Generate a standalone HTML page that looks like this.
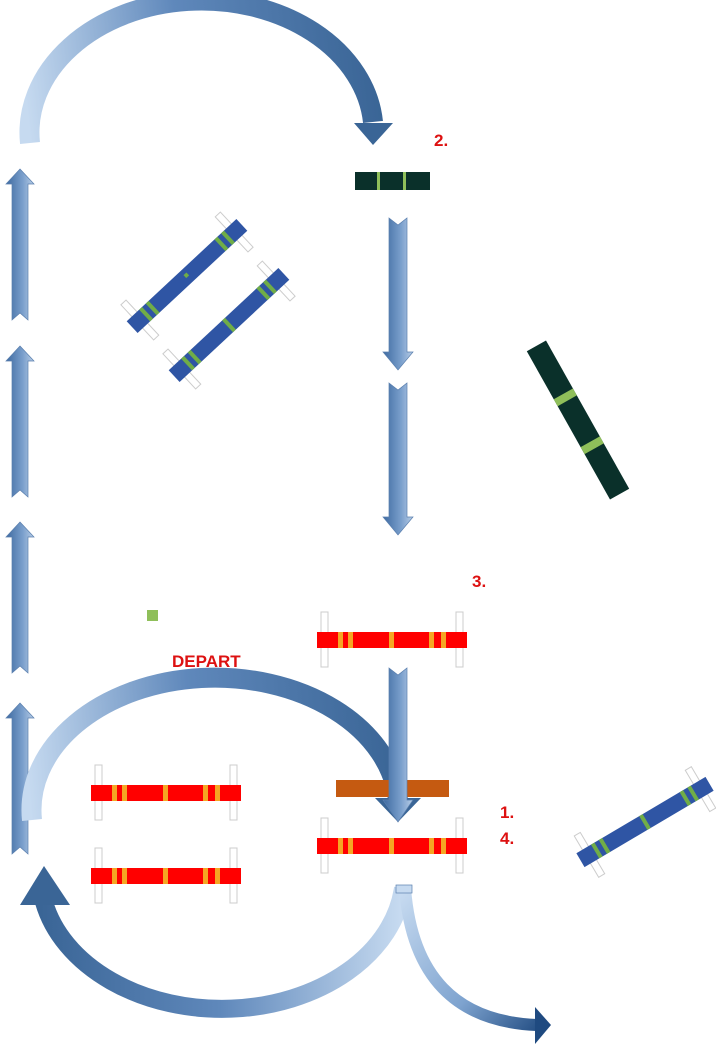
<!DOCTYPE html>
<html><head><meta charset="utf-8"><style>
html,body{margin:0;padding:0;background:#fff;}
svg{display:block;}
text{font-family:"Liberation Sans",sans-serif;font-weight:bold;fill:#d11;font-size:17px;}
</style></head><body>
<svg width="716" height="1056" viewBox="0 0 716 1056" xmlns="http://www.w3.org/2000/svg">
<defs>
<linearGradient id="sh" x1="0" x2="1" y1="0" y2="0">
<stop offset="0" stop-color="#3e6aa0"/><stop offset="0.6" stop-color="#7a9fcc"/><stop offset="1" stop-color="#b8cde6"/>
</linearGradient>
<linearGradient id="g1" gradientUnits="userSpaceOnUse" x1="30" y1="140" x2="380" y2="100">
<stop offset="0" stop-color="#c6daf0"/><stop offset="0.45" stop-color="#5f88bb"/><stop offset="1" stop-color="#3a6596"/>
</linearGradient>
<linearGradient id="g2" gradientUnits="userSpaceOnUse" x1="30" y1="810" x2="400" y2="780">
<stop offset="0" stop-color="#c6daf0"/><stop offset="0.45" stop-color="#5f88bb"/><stop offset="1" stop-color="#3a6596"/>
</linearGradient>
<linearGradient id="g3" gradientUnits="userSpaceOnUse" x1="400" y1="900" x2="40" y2="900">
<stop offset="0" stop-color="#c6daf0"/><stop offset="0.5" stop-color="#5f88bb"/><stop offset="1" stop-color="#3a6596"/>
</linearGradient>
<linearGradient id="g4" gradientUnits="userSpaceOnUse" x1="405" y1="890" x2="550" y2="1025">
<stop offset="0" stop-color="#c6daf0"/><stop offset="0.6" stop-color="#7ea3cf"/><stop offset="1" stop-color="#1f4a80"/>
</linearGradient>
<g id="up">
<polygon points="14,0 28,15 22,15 22,151 14,144 6,151 6,15 0,15" fill="url(#sh)" stroke="#5a7fae" stroke-width="0.7"/>
</g>
<g id="down">
<polygon points="0,0 9,7 18,0 18,134 24,134 9,152 -6,134 0,134" fill="url(#sh)" stroke="#5a7fae" stroke-width="0.7"/>
</g>
<g id="red">
<rect x="4" y="-20" width="7" height="55" fill="#fff" stroke="#ccc" stroke-width="1"/>
<rect x="139" y="-20" width="7" height="55" fill="#fff" stroke="#ccc" stroke-width="1"/>
<rect x="0" y="0" width="150" height="16" fill="#f00"/>
<rect x="21" y="0" width="5" height="16" fill="#f5a623"/>
<rect x="31" y="0" width="5" height="16" fill="#f5a623"/>
<rect x="72" y="0" width="5" height="16" fill="#f5a623"/>
<rect x="112" y="0" width="5" height="16" fill="#f5a623"/>
<rect x="124" y="0" width="5" height="16" fill="#f5a623"/>
</g>
<g id="blue">
<rect x="-68" y="-24" width="7" height="48" fill="#fff" stroke="#ccc" stroke-width="1"/>
<rect x="61" y="-24" width="7" height="48" fill="#fff" stroke="#ccc" stroke-width="1"/>
<rect x="-75" y="-8" width="150" height="16" fill="#2f55a4"/>
<rect x="-58" y="-8" width="4" height="16" fill="#70ad47"/>
<rect x="-49" y="-8" width="4" height="16" fill="#70ad47"/>
<rect x="45" y="-8" width="4" height="16" fill="#70ad47"/>
<rect x="54" y="-8" width="4" height="16" fill="#70ad47"/>
</g>
</defs>

<path d="M30,143 A172,132 0 0 1 373,122" fill="none" stroke="url(#g1)" stroke-width="20"/>
<polygon points="354,123 393,123 373,145" fill="#3a6596"/>

<use href="#up" x="6" y="169"/>
<use href="#up" x="6" y="346"/>
<use href="#up" x="6" y="522"/>
<use href="#up" x="6" y="703"/>

<rect x="355" y="172" width="75" height="18" fill="#0a302a"/>
<rect x="377" y="172" width="3" height="18" fill="#8fbf5a"/>
<rect x="403" y="172" width="3" height="18" fill="#8fbf5a"/>
<text x="434" y="146">2.</text>

<use href="#down" x="389" y="218"/>
<use href="#down" x="389" y="383"/>

<g transform="translate(187,276) rotate(-43)">
<use href="#blue"/>
<rect x="-2" y="-3" width="4" height="4" fill="#70ad47"/>
</g>
<g transform="translate(229,325) rotate(-43)">
<use href="#blue"/>
<rect x="-2" y="-8" width="4" height="16" fill="#70ad47"/>
</g>

<g transform="translate(578,420) rotate(60.7)">
<rect x="-85" y="-11" width="170" height="22" fill="#0a302a"/>
<rect x="-30" y="-11" width="8" height="22" fill="#8fbf5a"/>
<rect x="25" y="-11" width="8" height="22" fill="#8fbf5a"/>
</g>

<text x="472" y="587">3.</text>
<rect x="147" y="610" width="11" height="11" fill="#8fbf5a"/>

<use href="#red" x="317" y="632"/>
<text x="172" y="667">DEPART</text>

<path d="M32,820 A183,132 0 0 1 398,800" fill="none" stroke="url(#g2)" stroke-width="20"/>
<polygon points="375,798 421,798 398,822" fill="#3a6596"/>

<rect x="336" y="780" width="113" height="17" fill="#c55a11"/>
<polygon points="389,668 398,675 407,668 407,800 413,800 398,822 383,800 389,800" fill="url(#sh)" stroke="#5a7fae" stroke-width="0.7"/>

<use href="#red" x="91" y="785"/>
<use href="#red" x="91" y="868"/>
<use href="#red" x="317" y="838"/>

<text x="500" y="818">1.</text>
<text x="500" y="844">4.</text>

<g transform="translate(645,822) rotate(-30.6)"><use href="#blue"/>
<rect x="-2" y="-8" width="4" height="16" fill="#70ad47"/></g>

<path d="M403,888 A182,135 0 0 1 44,902" fill="none" stroke="url(#g3)" stroke-width="18"/>
<polygon points="20,905 70,905 44,866" fill="#3a6596"/>
<path d="M405,888 Q415,1020 537,1025" fill="none" stroke="url(#g4)" stroke-width="12"/>
<polygon points="535,1007 551,1025 535,1044" fill="#1f4a80"/>
<rect x="396" y="885" width="16" height="8" fill="#c6daf0" stroke="#5a7fae" stroke-width="0.7"/>
</svg>
</body></html>
